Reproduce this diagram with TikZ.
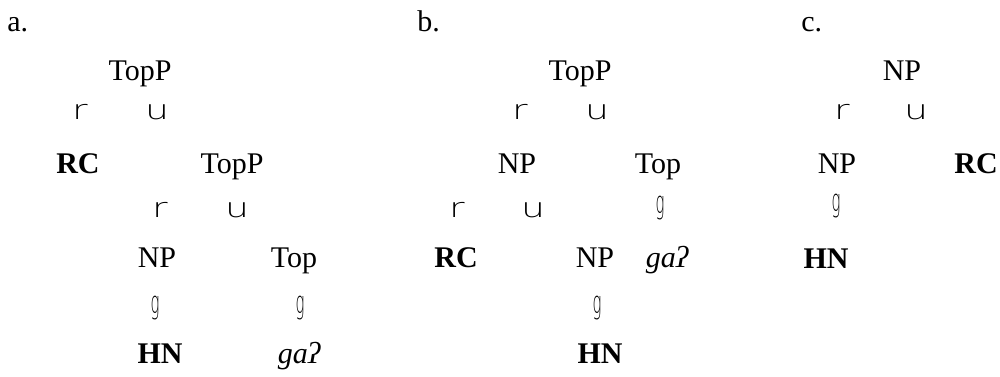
\documentclass[tikz,border=0pt]{standalone}
\usepackage{fontspec}
\setmainfont{Liberation Serif}
\newfontfamily\thinfont{DejaVuSans-ExtraLight.ttf}
\tikzset{
  x=0.5pt, y=-0.5pt,
  lab/.style={anchor=base, inner sep=0pt, font=\fontsize{15}{18}\selectfont},
  cat/.style={lab},
  head/.style={lab, font=\fontsize{15}{18}\selectfont\bfseries},
  part/.style={lab, font=\fontsize{15}{18}\selectfont\itshape},
  glyph/.style={anchor=base, inner sep=0pt, font=\fontsize{13.5}{16}\thinfont, transform shape, xscale=1.4},
  gglyph/.style={anchor=base, inner sep=0pt, font=\fontsize{13.5}{16}\thinfont, transform shape, xscale=0.55, yscale=1.15},
}
\begin{document}
\begin{tikzpicture}
\useasboundingbox (0,0) rectangle (1000,376);
% panel a
\node[lab, anchor=base west] (la) at (7,31) {a.};
\node[cat] (a1) at (140,80) {TopP};
\node[glyph] (a1l) at (80,119) {r};
\node[glyph] (a1r) at (157,119) {u};
\node[head] (a2) at (78,173) {RC};
\node[cat] (a3) at (232,173) {TopP};
\node[glyph] (a3l) at (160,217) {r};
\node[glyph] (a3r) at (237,217) {u};
\node[cat] (a4) at (157,267) {NP};
\node[cat] (a5) at (294,267) {Top};
\node[gglyph] (a4g) at (155,313) {g};
\node[gglyph] (a5g) at (300,313) {g};
\node[head] (a6) at (160,363) {HN};
\node[part] (a7) at (299,363) {gaʔ};
% panel b
\node[lab, anchor=base west] (lb) at (417,31) {b.};
\node[cat] (b1) at (580,80) {TopP};
\node[glyph] (b1l) at (520,119) {r};
\node[glyph] (b1r) at (597,119) {u};
\node[cat] (b2) at (517,173) {NP};
\node[cat] (b3) at (658,173) {Top};
\node[glyph] (b2l) at (457,217) {r};
\node[glyph] (b2r) at (533,217) {u};
\node[gglyph] (b3g) at (660,213) {g};
\node[head] (b4) at (456,267) {RC};
\node[cat] (b5) at (595,267) {NP};
\node[part] (b6) at (667,267) {gaʔ};
\node[gglyph] (b5g) at (597,313) {g};
\node[head] (b7) at (600,363) {HN};
% panel c
\node[lab, anchor=base west] (lc) at (801,31) {c.};
\node[cat] (c1) at (902,80) {NP};
\node[glyph] (c1l) at (842,119) {r};
\node[glyph] (c1r) at (916,119) {u};
\node[cat] (c2) at (837,173) {NP};
\node[head] (c3) at (976,173) {RC};
\node[gglyph] (c2g) at (836,211) {g};
\node[head] (c4) at (826,268) {HN};
\end{tikzpicture}
\end{document}
